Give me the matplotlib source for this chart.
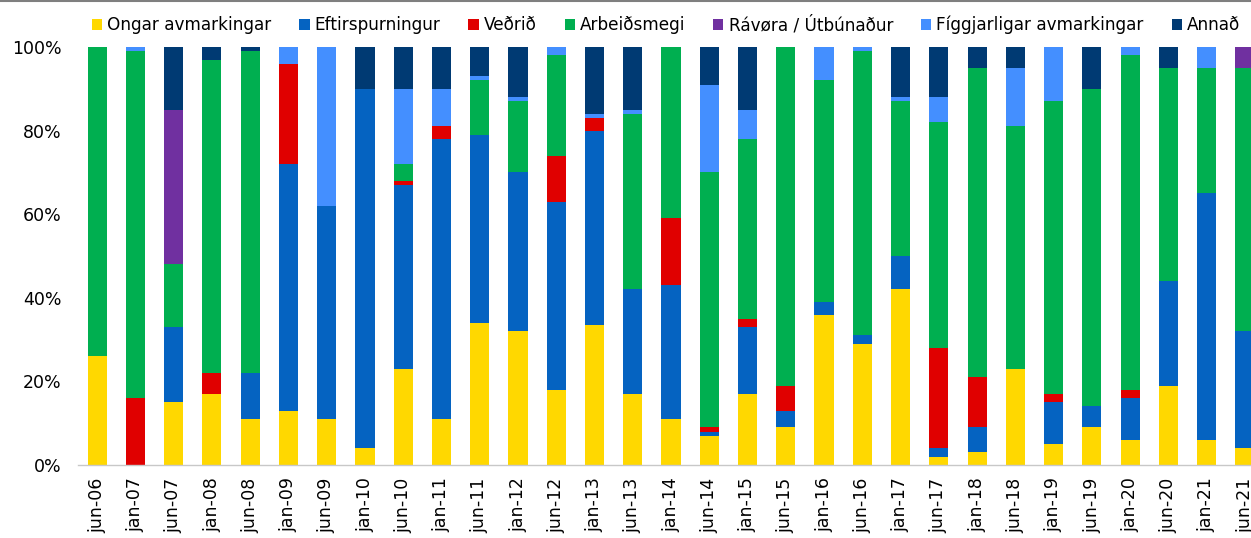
import numpy as np
import matplotlib
matplotlib.use("Agg")
import matplotlib.pyplot as plt
from matplotlib.patches import Patch
from matplotlib.lines import Line2D

# --- DATA ---
periods = ["jun-06", "jan-07", "jun-07", "jan-08", "jun-08", "jan-09", "jun-09", "jan-10",
           "jun-10", "jan-11", "jun-11", "jan-12", "jun-12", "jan-13", "jun-13", "jan-14",
           "jun-14", "jan-15", "jun-15", "jan-16", "jun-16", "jan-17", "jun-17", "jan-18",
           "jun-18", "jan-19", "jun-19", "jan-20", "jun-20", "jan-21", "jun-21"]

ongar = [26, 0, 15, 17, 11, 13, 11, 4, 23, 11, 34, 32, 18, 33.5, 17, 11,
         7, 17, 9, 36, 29, 42, 2, 3, 23, 5, 9, 6, 19, 6, 4]
eftirspurningur = [0, 0, 18, 0, 11, 59, 51, 86, 44, 67, 45, 38, 45, 46.5, 25, 32,
                   1, 16, 4, 3, 2, 8, 2, 6, 0, 10, 5, 10, 25, 59, 28]
vedrid = [0, 16, 0, 5, 0, 24, 0, 0, 1, 3, 0, 0, 11, 3, 0, 16,
          1, 2, 6, 0, 0, 0, 24, 12, 0, 2, 0, 2, 0, 0, 0]
arbeidsmegi = [74, 83, 15, 75, 77, 0, 0, 0, 4, 0, 13, 17, 24, 0, 42, 41,
               61, 43, 81, 53, 68, 37, 54, 74, 58, 70, 76, 80, 51, 30, 63]
ravora = [0, 0, 37, 0, 0, 0, 0, 0, 0, 0, 0, 0, 0, 0, 0, 0,
          0, 0, 0, 0, 0, 0, 0, 0, 0, 0, 0, 0, 0, 0, 5]
figgjarligar = [0, 1, 0, 0, 0, 4, 38, 0, 18, 9, 1, 1, 2, 1, 1, 0,
                21, 7, 0, 8, 1, 1, 6, 0, 14, 13, 0, 2, 0, 5, 0]
annad = [0, 0, 15, 3, 1, 0, 0, 10, 10, 10, 7, 12, 0, 16, 15, 0,
         9, 15, 0, 0, 0, 12, 12, 5, 5, 0, 10, 0, 5, 0, 0]

series_names = ["Ongar avmarkingar", "Eftirspurningur", "Veðrið", "Arbeiðsmegi",
                "Rávøra / Útbúnaður", "Fíggjarligar avmarkingar", "Annað"]
colors = ["#FFD800", "#0563C1", "#E00000", "#00AF50", "#7030A0", "#448FFF", "#003A73"]

plt.rcParams['font.family'] = ['DejaVu Sans']

fig = plt.figure(figsize=(12.51, 5.38), dpi=100)
# plot area runs past the right edge, as in the reference crop
ax = fig.add_axes([78 / 1251, 1 - 465 / 538, (1264 - 78) / 1251, (465 - 47) / 538])

x = np.arange(len(periods))
bottom = np.zeros(len(periods))
all_series = [ongar, eftirspurningur, vedrid, arbeidsmegi, ravora, figgjarligar, annad]
for vals, c in zip(all_series, colors):
    vals = np.array(vals, dtype=float)
    ax.bar(x, vals, bottom=bottom, width=0.5, color=c, edgecolor='none')
    bottom += vals

ax.set_xlim(-0.5, len(periods) - 0.5)
ax.set_ylim(0, 100)
ax.set_yticks([0, 20, 40, 60, 80, 100])
ax.set_yticklabels([f"{v}%" for v in range(0, 101, 20)], fontsize=12.5)
ax.set_xticks(x)
ax.set_xticklabels(periods, rotation=90, fontsize=12.5, va='top')
ax.tick_params(axis='x', length=0, pad=9)
ax.tick_params(axis='y', length=0, pad=12)

for s in ['top', 'right', 'left']:
    ax.spines[s].set_visible(False)
ax.spines['bottom'].set_color('#C8C8C8')
ax.spines['bottom'].set_linewidth(1.0)

handles = [Patch(facecolor=c, edgecolor='none') for c in colors]
fig.legend(handles, series_names, loc='center', bbox_to_anchor=(666 / 1251, 1 - 25 / 538),
           ncol=7, frameon=False, fontsize=12.2, handlelength=0.6, handleheight=0.6,
           handletextpad=0.3, columnspacing=1.65)

# thin border line at the top of the image
fig.add_artist(Line2D([0, 1], [0.999, 0.999], transform=fig.transFigure,
                      color='#7F7F7F', linewidth=1.5))

fig.savefig("out.png", dpi=100)
